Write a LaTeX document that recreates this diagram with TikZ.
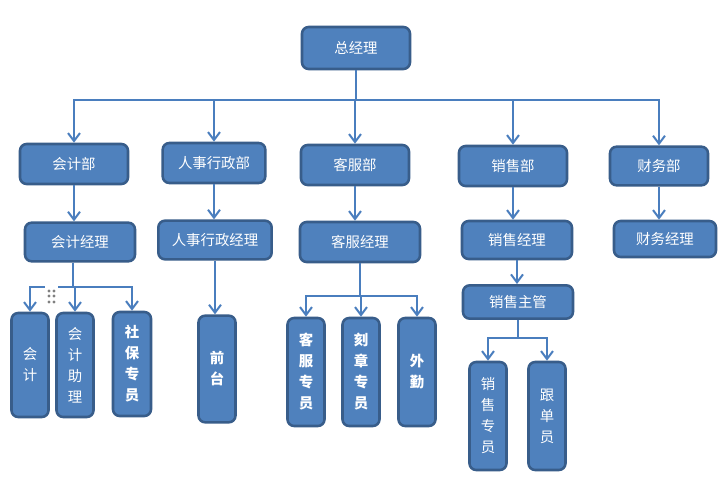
\documentclass[tikz,border=0pt]{standalone}
\usepackage{fontspec}
\setmainfont{Noto Sans CJK SC}
\usetikzlibrary{arrows.meta}
\definecolor{boxfill}{RGB}{79,129,189}
\definecolor{boxline}{RGB}{56,93,138}
\definecolor{linkcol}{RGB}{74,126,190}
\tikzset{
  post/.style={rectangle,rounded corners=5pt,draw=boxline,fill=boxfill,
               line width=1.9pt,text=white,inner sep=0pt,align=center,
               font=\fontsize{10.8}{15.75}\selectfont},
  hpost/.style={post,minimum width=81pt,minimum height=30pt},
  vpost/.style={post,minimum width=27.75pt,minimum height=78pt},
  heavy/.style={font=\fontsize{10.8}{15.75}\selectfont\bfseries},
  link/.style={draw=linkcol,line width=2pt,
               -{Straight Barb[length=6pt,width=9pt,line width=1.5pt]}},
}

\begin{document}
\begin{tikzpicture}[x=0.75pt,y=-0.75pt]
  \fill[white] (0,0) rectangle (726,486);
  \useasboundingbox (0,0) rectangle (726,486);

  % top of the chart
  \node[hpost,minimum height=31.5pt] (gm) at (356,48) {总经理};

  % departments
  \node[hpost] (acc)   at (74,164)  {会计部};
  \node[hpost,minimum width=77pt] (hr) at (214,163) {人事行政部};
  \node[hpost] (cs)    at (355,165) {客服部};
  \node[hpost] (sales) at (513,166) {销售部};
  \node[hpost,minimum width=73.5pt,minimum height=29pt] (fin) at (659,166) {财务部};

  \coordinate (topbus) at (356,100);
  \foreach \d in {acc,hr,cs,sales,fin}
    \draw[link] (gm.south) -- (topbus) -| (\d.north);

  % managers
  \node[hpost,minimum width=82.5pt,minimum height=29pt] (accm) at (80,242) {会计经理};
  \node[hpost,minimum width=85pt,minimum height=29pt] (hrm) at (215,240) {人事行政经理};
  \node[hpost,minimum width=90pt] (csm) at (360,242) {客服经理};
  \node[hpost,minimum width=82.5pt,minimum height=28.5pt] (salesm) at (517,240) {销售经理};
  \node[hpost,minimum width=76.5pt,minimum height=27pt] (finm) at (665,239) {财务经理};

  \foreach \d/\m in {acc/accm,hr/hrm,cs/csm,sales/salesm,fin/finm}
    \draw[link] (\d.south) -- (\d.south |- \m.north);

  \node[hpost,minimum width=82.5pt,minimum height=25pt] (sup) at (518,302) {销售主管};
  \draw[link] (salesm.south) -- (salesm.south |- sup.north);

  % staff
  \node[vpost] (kj)   at (30,365)  {会\\计};
  \node[vpost] (kjzl) at (75,365)  {会\\计\\助\\理};
  \node[vpost,heavy,minimum width=28.5pt] (sbzy) at (132,364) {社\\保\\专\\员};
  \node[vpost,heavy,minimum height=80pt] (qt) at (217,369) {前\\台};
  \node[vpost,heavy,minimum height=81pt] (kfzy) at (306,372) {客\\服\\专\\员};
  \node[vpost,heavy,minimum height=81pt] (kzzy) at (361,372) {刻\\章\\专\\员};
  \node[vpost,heavy,minimum height=81pt] (wq)   at (417,372) {外\\勤};
  \node[vpost,minimum height=81pt] (xszy) at (488,416) {销\\售\\专\\员};
  \node[vpost,minimum height=81pt] (gdy)  at (547,416) {跟\\单\\员};

  \coordinate (accbus) at (73,287);
  \foreach \s in {kj,kjzl,sbzy}
    \draw[link] (accm.south -| accbus) -- (accbus) -| (\s.north);

  \draw[link] (hrm.south) -- (hrm.south |- qt.north);

  \coordinate (csbus) at (360,296);
  \foreach \s in {kfzy,kzzy,wq}
    \draw[link] (csm.south) -- (csbus) -| (\s.north);

  \coordinate (supbus) at (518,338);
  \foreach \s in {xszy,gdy}
    \draw[link] (sup.south) -- (supbus) -| (\s.north);

  % grip handle over the left bus
  \fill[white] (45,285) rectangle (58,305);
  \foreach \gx in {49,54}
    \foreach \gy in {291,296,302}
      \fill[gray] (\gx,\gy) circle (1.2pt);
\end{tikzpicture}
\end{document}
